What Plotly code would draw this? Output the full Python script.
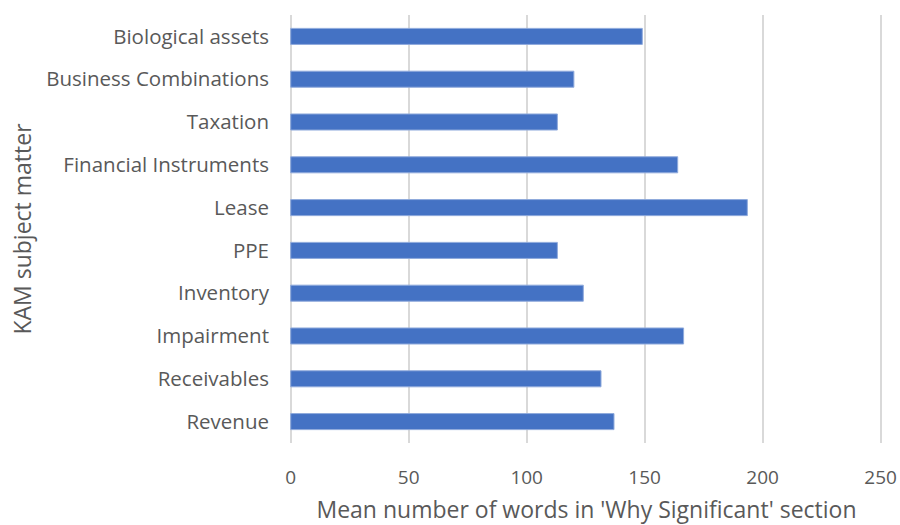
import plotly.graph_objects as go

# KAM subject matters, listed top to bottom
categories = [
    "Biological assets",
    "Business Combinations",
    "Taxation",
    "Financial Instruments",
    "Lease",
    "PPE",
    "Inventory",
    "Impairment",
    "Receivables",
    "Revenue",
]
mean_words = [149, 120, 113, 164, 193.5, 113, 124, 166.5, 131.5, 137]
x_ticks = [0, 50, 100, 150, 200, 250]

FONT = "Open Sans, Noto Sans, sans-serif"
TEXT = "#595959"
GRID = "#D9D9D9"

fig = go.Figure(
    go.Bar(
        x=mean_words,
        y=categories,
        orientation="h",
        width=0.375,
        marker=dict(color="#4472C4", line=dict(color="#8FAADC", width=1)),
    )
)

fig.update_layout(
    width=900,
    height=525,
    margin=dict(l=290, r=17, t=15, b=82),
    paper_bgcolor="white",
    plot_bgcolor="white",
    showlegend=False,
    font=dict(family=FONT, color=TEXT, size=20),
)

fig.update_xaxes(
    automargin=False,
    range=[-0.3, 251],
    tickvals=x_ticks,
    showgrid=True,
    gridcolor=GRID,
    gridwidth=1.5,
    zeroline=True,
    zerolinecolor=GRID,
    zerolinewidth=1.5,
    showline=False,
    ticks="",
    ticklabelstandoff=21,
    tickfont=dict(size=19, color=TEXT),
    title=dict(
        text="Mean number of words in 'Why Significant' section",
        font=dict(size=23, color=TEXT),
        standoff=30,
    ),
)

fig.update_yaxes(
    automargin=False,
    autorange="reversed",
    showgrid=False,
    showline=False,
    ticks="",
    ticklabelstandoff=20,
    tickfont=dict(size=20.5, color=TEXT),
    title=dict(text="KAM subject matter", font=dict(size=23, color=TEXT), standoff=8),
)

fig.write_html("out.html")
